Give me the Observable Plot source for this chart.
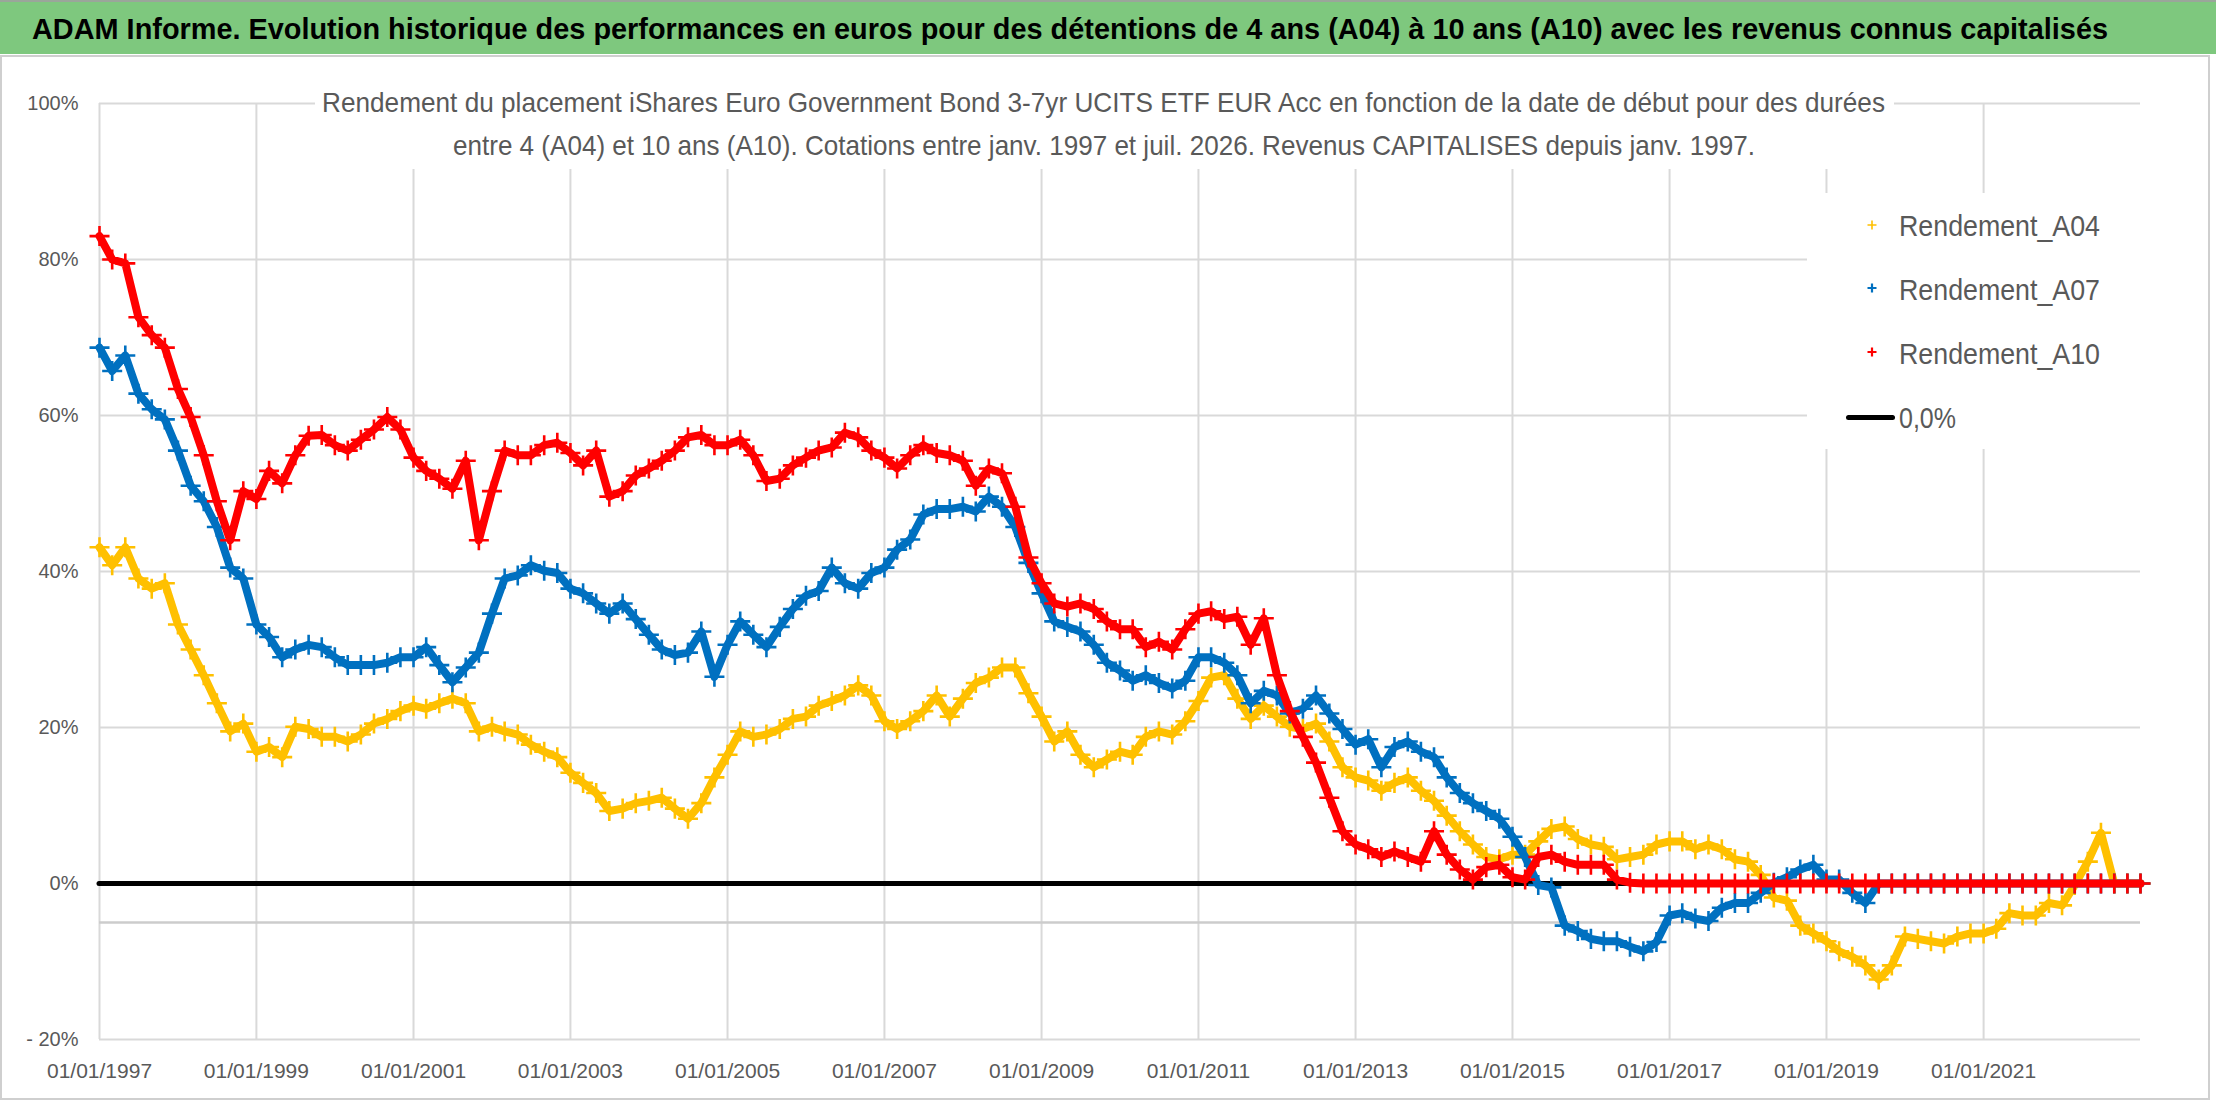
<!DOCTYPE html>
<html>
<head>
<meta charset="utf-8">
<script src="https://cdn.jsdelivr.net/npm/d3@7"></script>
<script src="https://cdn.jsdelivr.net/npm/@observablehq/plot@0.6"></script>
<style>
html, body { margin: 0; padding: 0; background: #fff; }
#wrap { position: relative; width: 2216px; height: 1102px; overflow: hidden; font-family: "Liberation Sans", Arial, sans-serif; }
#band { position: absolute; left: 0; top: 0; width: 2216px; height: 54px; background: #7ec87e; border-top: 2px solid #9aa69a; box-sizing: border-box; }
#frame { position: absolute; left: 0; top: 55px; width: 2210px; height: 1045px; border: 2px solid #cfcfcf; box-sizing: border-box; }
#chart { position: absolute; left: 0; top: 57px; }
.fit { position: absolute; white-space: nowrap; line-height: 1; transform-origin: 0 50%; }
#title { font-weight: bold; font-size: 30px; color: #000; }
.sub { font-size: 28px; color: #595959; }
#subbox { position: absolute; left: 315px; top: 70px; width: 1579px; height: 99px; background: #fff; }
#legbox { position: absolute; left: 1807px; top: 193px; width: 333px; height: 256px; background: #fff; }
.leg { font-size: 30px; color: #595959; }
.mk { position: absolute; }
</style>
</head>
<body>
<div id="wrap">
  <div id="band"></div>
  <div id="frame"></div>
  <div id="chart"></div>
  <div id="subbox"></div>
  <div id="legbox"></div>
</div>
<script>
// ---------------- data ----------------
const titleText = "ADAM Informe. Evolution historique des performances en euros pour des détentions de 4 ans (A04) à 10 ans (A10) avec les revenus connus capitalisés";
const subtitleLines = [
  "Rendement du placement iShares Euro Government Bond 3-7yr UCITS ETF EUR Acc en fonction de la date de début pour des durées",
  "entre 4 (A04) et 10 ans (A10). Cotations entre janv. 1997 et juil. 2026. Revenus CAPITALISES depuis janv. 1997."
];
const seriesNames = ["Rendement_A04", "Rendement_A07", "Rendement_A10"];
const seriesColors = ["#FFC000", "#0070C0", "#FF0000"];
const zeroName = "0,0%";
const xTickYears = [1997, 1999, 2001, 2003, 2005, 2007, 2009, 2011, 2013, 2015, 2017, 2019, 2021];
const xDomainYears = [1997, 2023];
const yTicks = [-20, 0, 20, 40, 60, 80, 100];
const yTickLabels = ["- 20%", "0%", "20%", "40%", "60%", "80%", "100%"];
const axisCrossing = -5;
const startYear = 1997;
const stepMonths = 2; // one value every two months from 01/01/1997

// Rendement (%) par date de début, tous les 2 mois
const a04 = [
  43.1, 40.8, 43.1, 39.1, 37.8, 38.5,
  33.2, 30, 26.7, 23.1, 19.5, 20.5,
  16.9, 17.5, 16.2, 20.1, 19.8, 18.8,
  18.8, 18.2, 19.1, 20.5, 21.1, 22.1,
  22.8, 22.4, 23.1, 23.7, 23.1, 19.5,
  20.1, 19.5, 19.1, 17.8, 16.9, 16.2,
  14.2, 12.9, 11.6, 9.3, 9.6, 10.3,
  10.6, 11, 9.6, 8.3, 10.3, 13.6,
  16.5, 19.5, 18.8, 19.1, 19.8, 21.1,
  21.4, 22.8, 23.4, 24.1, 25.4, 24.1,
  20.8, 19.8, 20.8, 22.1, 24.1, 21.4,
  23.7, 25.7, 26.4, 27.7, 27.7, 24.4,
  21.4, 18.2, 19.5, 16.5, 14.9, 15.9,
  16.9, 16.5, 18.8, 19.5, 19.1, 20.8,
  23.4, 26.4, 26.7, 23.7, 21.1, 22.8,
  21.4, 20.1, 19.8, 20.5, 18.2, 14.9,
  13.6, 13.2, 11.9, 12.9, 13.6, 11.9,
  10.6, 8.7, 6.7, 5.0, 3.4, 3.1,
  3.7, 3.7, 5.4, 7.0, 7.3, 5.7,
  5.0, 4.7, 3.1, 3.4, 3.7, 5.0,
  5.4, 5.4, 4.4, 5.0, 4.4, 3.1,
  2.8, 1.1, -1.8, -2.2, -5.4, -6.4,
  -7.4, -8.7, -9.4, -10.5, -12.3, -10.5,
  -6.8, -7.1, -7.4, -7.7, -6.8, -6.4,
  -6.4, -5.8, -3.8, -4.1, -4.1, -2.5,
  -2.8, -0.2, 2.8, 6.5, 0, 0,
  0
];
const a07 = [
  68.7, 65.7, 67.7, 62.8, 60.8, 59.5,
  55.5, 51, 49, 45.7, 40.5, 39.1,
  33.2, 31.6, 29, 30, 30.6, 30.3,
  29, 28, 28, 28, 28.3, 29,
  29, 30.3, 28, 25.8, 27.7, 29.6,
  34.6, 39.1, 39.5, 40.8, 40.1, 39.8,
  37.8, 37.2, 35.9, 34.6, 35.9, 33.9,
  31.9, 30, 29.3, 29.6, 32.3, 26.5,
  30.6, 33.6, 31.9, 30.3, 32.9, 35.2,
  36.9, 37.5, 40.5, 38.5, 37.8, 39.8,
  40.5, 42.8, 44.1, 47.3, 48, 48,
  48.3, 47.7, 49.6, 48.3, 45.7, 41.1,
  37.2, 33.6, 32.9, 32.3, 30.6, 28.3,
  27.3, 26, 26.7, 25.7, 25, 26,
  29, 29, 28.3, 26.7, 23.1, 24.7,
  24.1, 21.8, 22.4, 24.1, 21.8, 19.8,
  17.8, 18.5, 14.9, 17.5, 18.2, 16.9,
  16.2, 13.6, 11.6, 10.3, 9.3, 8.3,
  6, 3.4, -0.2, -0.5, -5.4, -6.1,
  -7.1, -7.4, -7.4, -8.1, -8.7, -7.5,
  -4.1, -3.8, -4.5, -4.8, -3.1, -2.5,
  -2.5, -1.2, 0.1, 0.8, 1.8, 2.4,
  0.5, 0.5, -1.2, -2.5, 0, 0,
  0, 0, 0, 0, 0, 0,
  0, 0, 0, 0, 0, 0,
  0, 0, 0, 0, 0, 0,
  0
];
const a10 = [
  83, 80, 79.5, 72.6, 70.3, 68.7,
  63.4, 59.8, 54.9, 49, 44, 50.3,
  49.3, 52.9, 51.3, 54.9, 57.4, 57.5,
  56.2, 55.5, 56.9, 58.2, 59.8, 58.2,
  54.6, 52.9, 51.9, 50.6, 54.2, 44,
  50.3, 55.5, 54.9, 54.9, 56.2, 56.5,
  55.2, 53.6, 55.5, 49.6, 50.3, 52.3,
  53.2, 54.2, 55.5, 57.2, 57.5, 56.2,
  56.2, 56.9, 54.9, 51.6, 51.9, 53.6,
  54.6, 55.5, 55.9, 57.8, 57.2, 55.5,
  54.6, 53.2, 54.9, 56.2, 55.2, 54.9,
  54.2, 51.0, 53.2, 52.6, 48.3, 41.8,
  38.5, 35.9, 35.5, 35.9, 35.2, 33.6,
  32.6, 32.6, 30.3, 31, 30, 32.6,
  34.6, 34.9, 33.9, 34.2, 30.6, 34,
  26.7, 22.1, 18.8, 15.5, 11, 6.7,
  5.0, 4.4, 3.4, 4.1, 3.4, 2.8,
  6.7, 3.7, 1.8, 0.5, 2.1, 2.4,
  0.8, 0.5, 3.4, 3.7, 2.8, 2.4,
  2.4, 2.4, 0.5, 0.1, 0, 0,
  0, 0, 0, 0, 0, 0,
  0, 0, 0, 0, 0, 0,
  0, 0, 0, 0, 0, 0,
  0, 0, 0, 0, 0, 0,
  0, 0, 0, 0, 0, 0,
  0, 0, 0, 0, 0, 0,
  0
];

// ---------------- build chart ----------------
const seriesValues = [a04, a07, a10];
const rows = seriesValues.flatMap((vals, k) =>
  vals.map((v, i) => ({ series: seriesNames[k], date: new Date(Date.UTC(startYear, stepMonths * i, 1)), value: v }))
);
const xDates = xTickYears.map(y => new Date(Date.UTC(y, 0, 1)));
const fmtDate = d3.utcFormat("%d/%m/%Y");

const seriesMarks = seriesNames.flatMap((name) => {
  const sub = rows.filter(r => r.series === name);
  return [
    Plot.line(sub, { x: "date", y: "value", stroke: "series", strokeWidth: 8, strokeLinejoin: "round", strokeLinecap: "round" }),
    Plot.dot(sub, { x: "date", y: "value", stroke: "series", symbol: "plus", r: 6.5, strokeWidth: 2.6 })
  ];
});

const chart = Plot.plot({
  width: 2216,
  height: 1045,
  marginLeft: 99,
  marginRight: 76,
  marginTop: 46,
  marginBottom: 63,
  style: { fontFamily: "'Liberation Sans', Arial, sans-serif", color: "#595959", background: "transparent", overflow: "visible" },
  x: { type: "utc", domain: xDomainYears.map(y => new Date(Date.UTC(y, 0, 1))) },
  y: { domain: [yTicks[0], yTicks[yTicks.length - 1]] },
  color: { domain: seriesNames, range: seriesColors },
  marks: [
    Plot.gridY(yTicks, { stroke: "#d9d9d9", strokeOpacity: 1, strokeWidth: 2 }),
    Plot.gridX(xDates, { stroke: "#d9d9d9", strokeOpacity: 1, strokeWidth: 2 }),
    Plot.ruleY([axisCrossing], { stroke: "#cccccc", strokeWidth: 2.5 }),
    Plot.axisY(yTicks, { tickSize: 0, tickPadding: 21, fontSize: 20, label: null, tickFormat: d => yTickLabels[yTicks.indexOf(d)] }),
    Plot.axisX(xDates, { tickSize: 0, tickPadding: 24, fontSize: 21, label: null, tickFormat: fmtDate }),
    Plot.ruleY([0], { stroke: "#000", strokeWidth: 5, strokeLinecap: "round" }),
    ...seriesMarks
  ]
});
document.getElementById("chart").appendChild(chart);

// ---------------- texts (title, subtitle, legend) ----------------
const wrap = document.getElementById("wrap");
const fits = [];
function addText(text, cls, left, baseline, fs, targetW) {
  const el = document.createElement("div");
  el.className = "fit " + cls;
  el.textContent = text;
  el.style.left = left + "px";
  el.style.top = (baseline - 0.8465 * fs) + "px";
  el.style.fontSize = fs + "px";
  wrap.appendChild(el);
  fits.push([el, targetW]);
  return el;
}
addText(titleText, "", 32, 39, 30, 2076).id = "title";
document.getElementById("title").style.fontWeight = "bold";
addText(subtitleLines[0], "sub", 322, 113, 28, 1563);
addText(subtitleLines[1], "sub", 453, 156, 28, 1302);

const legBase = [236, 300, 364];
const legMarkY = [225, 288, 352];
seriesNames.forEach((name, k) => {
  addText(name, "leg", 1899, legBase[k], 30, 201);
  const s = document.createElementNS("http://www.w3.org/2000/svg", "svg");
  s.setAttribute("width", 14); s.setAttribute("height", 14);
  s.setAttribute("class", "mk");
  s.style.left = (1872 - 7) + "px"; s.style.top = (legMarkY[k] - 7) + "px";
  s.innerHTML = `<path d="M7,2.5V11.5M2.5,7H11.5" stroke="${seriesColors[k]}" stroke-width="${k === 0 ? 1.6 : 2.2}" fill="none"/>`;
  wrap.appendChild(s);
});
addText(zeroName, "leg", 1899, 428, 30, 57);
const ln = document.createElement("div");
ln.style.cssText = "position:absolute;left:1846px;top:414.5px;width:49px;height:5px;background:#000;border-radius:3px;";
wrap.appendChild(ln);

function fitAll() {
  fits.forEach(([el, w]) => {
    el.style.transform = "none";
    const cw = el.getBoundingClientRect().width;
    if (cw > 0) el.style.transform = `scaleX(${w / cw})`;
  });
}
fitAll();
if (document.fonts && document.fonts.ready) document.fonts.ready.then(fitAll);
</script>
</body>
</html>
